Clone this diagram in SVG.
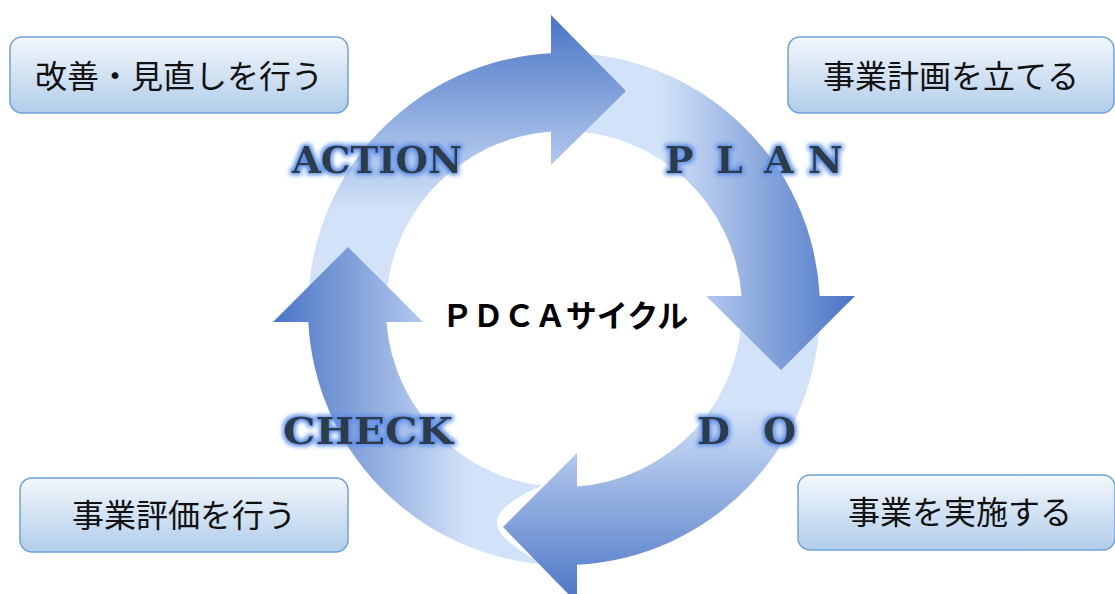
<svg xmlns="http://www.w3.org/2000/svg" width="1115" height="594" viewBox="0 0 1115 594">
<defs>
<linearGradient id="gBox" x1="0" y1="0" x2="0" y2="1">
<stop offset="0" stop-color="#f3f7fc"/>
<stop offset="1" stop-color="#b1cdea"/>
</linearGradient>
<linearGradient id="gA" gradientUnits="userSpaceOnUse" x1="0" y1="15" x2="0" y2="210">
<stop offset="0" stop-color="#4a74c6"/>
<stop offset="1" stop-color="#d2e2f8"/>
</linearGradient>
<linearGradient id="gP" gradientUnits="userSpaceOnUse" x1="855" y1="0" x2="660" y2="0">
<stop offset="0" stop-color="#4a74c6"/>
<stop offset="1" stop-color="#d2e2f8"/>
</linearGradient>
<linearGradient id="gD" gradientUnits="userSpaceOnUse" x1="0" y1="603" x2="0" y2="408">
<stop offset="0" stop-color="#4a74c6"/>
<stop offset="1" stop-color="#d2e2f8"/>
</linearGradient>
<linearGradient id="gC" gradientUnits="userSpaceOnUse" x1="273" y1="0" x2="468" y2="0">
<stop offset="0" stop-color="#4a74c6"/>
<stop offset="1" stop-color="#d2e2f8"/>
</linearGradient>
<filter id="glow" x="-20%" y="-40%" width="140%" height="180%">
<feMorphology in="SourceAlpha" operator="dilate" radius="1.5" result="d"/>
<feGaussianBlur in="d" stdDeviation="2" result="b"/>
<feFlood flood-color="#5b8fe8"/>
<feComposite in2="b" operator="in" result="g"/>
<feMerge><feMergeNode in="g"/><feMergeNode in="SourceGraphic"/></feMerge>
</filter>
</defs>
<style>
.box{fill:url(#gBox);stroke:#6fa1d9;stroke-width:1.5}
.bt{font-family:"Noto Sans CJK JP","Noto Sans",sans-serif;font-size:32px;fill:#111;text-anchor:middle}
.lbl{font-family:"DejaVu Serif","Liberation Serif",serif;font-weight:bold;font-size:38px;fill:#2f3a4a;filter:url(#glow)}
.ctr{font-family:"Noto Sans CJK JP","Noto Sans",sans-serif;font-weight:bold;font-size:31px;fill:#000;text-anchor:middle}
</style>
<rect width="1115" height="594" fill="#fff"/>
<g id="connectors">
<path d="M308,309 A256,256 0 0 1 551,53.3 L551,131.5 A178,178 0 0 0 386,309 Z" fill="url(#gA)"/>
<path d="M564,53 A256,256 0 0 1 819.7,296 L741.5,296 A178,178 0 0 0 564,131 Z" fill="url(#gP)"/>
<path d="M820,309 A256,256 0 0 1 577,564.7 L577,486.5 A178,178 0 0 0 742,309 Z" fill="url(#gD)"/>
<path d="M564,565 A256,256 0 0 1 308.3,322 L386.5,322 A178,178 0 0 0 564,487 Z" fill="url(#gC)"/>
<path d="M546,484 C520,494 495,510 497,524 C499,537 515,547 532,558 L560,558 L560,484 Z" fill="#fff"/>
<polygon points="551,15 626,91 551,165" fill="url(#gA)"/>
<polygon points="706,296 855,296 781,370" fill="url(#gP)"/>
<polygon points="577,453 503,527 577,603" fill="url(#gD)"/>
<polygon points="273,322 348,247 423,322" fill="url(#gC)"/>
</g>
<g id="node-action"><text class="lbl" x="292" y="173" textLength="170" lengthAdjust="spacingAndGlyphs">ACTION</text></g>
<g id="node-plan"><text class="lbl" x="665 716 764 808" y="173">PLAN</text></g>
<g id="node-do"><text class="lbl" x="697 763" y="444">DO</text></g>
<g id="node-check"><text class="lbl" x="283" y="444" textLength="170" lengthAdjust="spacingAndGlyphs">CHECK</text></g>
<g id="node-center"><text class="ctr" x="565" y="327">ＰＤＣＡサイクル</text></g>
<g id="node-kaizen"><rect class="box" x="10" y="37" width="338" height="76" rx="12"/><text class="bt" x="179" y="88">改善・見直しを行う</text></g>
<g id="node-keikaku"><rect class="box" x="788" y="37" width="326" height="76" rx="12"/><text class="bt" x="951" y="88">事業計画を立てる</text></g>
<g id="node-hyoka"><rect class="box" x="20" y="478" width="328" height="74" rx="12"/><text class="bt" x="184" y="527">事業評価を行う</text></g>
<g id="node-jisshi"><rect class="box" x="798" y="475" width="317" height="75" rx="12"/><text class="bt" x="960" y="524">事業を実施する</text></g>
</svg>
